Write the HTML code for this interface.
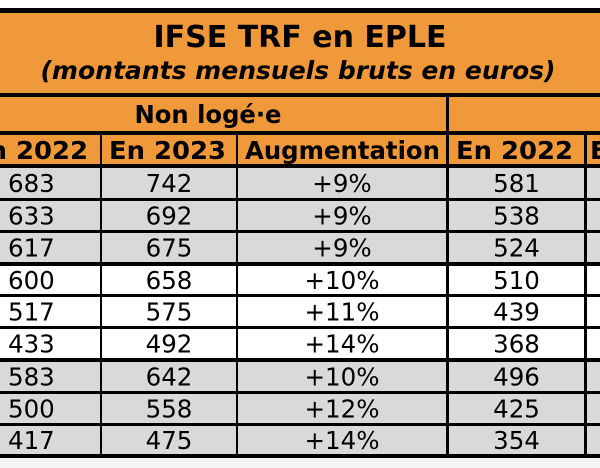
<!DOCTYPE html>
<html><head><meta charset="utf-8"><style>
html,body{margin:0;padding:0;background:#fff;width:600px;height:468px;overflow:hidden}
svg{display:block}
text{font-family:"DejaVu Sans","Liberation Sans",sans-serif;fill:#000}
</style></head><body>
<svg id="tbl" width="600" height="468" viewBox="0 0 600 468">
<rect x="0" y="458" width="600" height="10" fill="#f4f4f4"/>
<rect x="0" y="8" width="600" height="450" fill="#000"/>
<rect x="0" y="13" width="600" height="80" fill="#f0993b"/>
<text x="300" y="47" font-size="30" font-weight="bold" text-anchor="middle">IFSE TRF en EPLE</text>
<text x="298" y="79" font-size="25" font-weight="bold" font-style="italic" text-anchor="middle" textLength="515" lengthAdjust="spacingAndGlyphs">(montants mensuels bruts en euros)</text>
<rect x="0" y="97" width="446" height="34" fill="#f0993b"/>
<rect x="449" y="97" width="151" height="34" fill="#f0993b"/>
<text x="208" y="123" font-size="25" font-weight="bold" text-anchor="middle" textLength="147" lengthAdjust="spacingAndGlyphs">Non logé·e</text>
<g id="hdr"></g>
<g id="rows"></g>
</svg>
<script>
const col2022 = [683,633,617,600,517,433,583,500,417];
const col2023 = [742,692,675,658,575,492,642,558,475];
const augment = ["+9%","+9%","+9%","+10%","+11%","+14%","+10%","+12%","+14%"];
const loge2022 = [581,538,524,510,439,368,496,425,354];
const shaded = [1,1,1,0,0,0,1,1,1];
const headers = ["En 2022","En 2023","Augmentation","En 2022","En 2023"];

const NS="http://www.w3.org/2000/svg";
const colX=[[-40,100],[102,236],[238,446],[449,584],[587,720]];
const hdrTextX=[-29,109,245,456,590];
const hdrTextW=[117,117,195,117,117];
const rowY=[[168,198],[201,230],[233,262],[266,294],[297,326],[329,358],[362,391],[394,423],[426,454]];
function mk(tag,attrs,parent){const e=document.createElementNS(NS,tag);for(const k in attrs)e.setAttribute(k,attrs[k]);parent.appendChild(e);return e;}
const hdr=document.getElementById('hdr');
headers.forEach((h,i)=>{
  const r=mk('rect',{x:colX[i][0],y:135,width:colX[i][1]-colX[i][0],height:29,fill:'#f0993b'},hdr);
  
  
  const t=mk('text',{x:hdrTextX[i],y:159,'font-size':25,'font-weight':'bold',textLength:hdrTextW[i],lengthAdjust:'spacingAndGlyphs'},hdr);
  t.textContent=h;
  
  
});
const rows=document.getElementById('rows');
col2022.forEach((v,i)=>{
  const [y0,y1]=rowY[i];
  const fill=shaded[i]?'#d9d9d9':'#ffffff';
  colX.forEach((c,j)=>{
    const r=mk('rect',{x:c[0],y:y0,width:c[1]-c[0],height:y1-y0,fill:fill},rows);
    
    
  });
  const by=(y0+y1)/2+9;
  const vals=[col2022[i],col2023[i],augment[i],loge2022[i]];
  vals.forEach((val,j)=>{
    const cx=j===0?8:(colX[j][0]+colX[j][1])/2;
    const t=mk('text',{x:cx,y:by,'font-size':24.5,'text-anchor':j===0?'start':'middle'},rows);
    t.textContent=String(val);
    
    
  });
});
</script>
</body></html>
